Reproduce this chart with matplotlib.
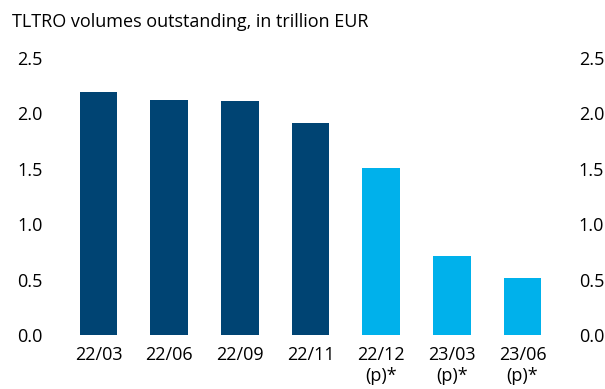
import matplotlib.pyplot as plt

# TLTRO volumes outstanding (trillion EUR)
periods = ['22/03', '22/06', '22/09', '22/11', '22/12\n(p)*', '23/03\n(p)*', '23/06\n(p)*']
volumes = [2.19, 2.12, 2.11, 1.91, 1.51, 0.71, 0.51]
projected = [False, False, False, False, True, True, True]
yticks = [0.0, 0.5, 1.0, 1.5, 2.0, 2.5]

DARK = '#004473'
LIGHT = '#00B1EB'

plt.rcParams['font.family'] = ['Open Sans', 'DejaVu Sans']

fig = plt.figure(figsize=(6.05, 3.89), dpi=100)
ax = fig.add_axes([0.1045, 0.1388, 0.8175, 0.7121])

colors = [LIGHT if p else DARK for p in projected]
ax.bar(range(len(periods)), volumes, width=0.53, color=colors)

ax.set_xlim(-0.5, len(periods) - 0.5)
ax.set_ylim(0, 2.5)
ax.set_yticks(yticks)
ax.set_yticklabels(['%.1f' % t for t in yticks])
ax.set_xticks(range(len(periods)))
ax.set_xticklabels(periods, linespacing=1.2)

# same scale mirrored on the right
ax.tick_params(axis='y', length=0, pad=15, labelsize=13,
               labelright=True, right=False)
ax.tick_params(axis='x', length=0, pad=8, labelsize=13)

for s in ax.spines.values():
    s.set_visible(False)

fig.text(0.02, 0.9434, 'TLTRO volumes outstanding, in trillion EUR',
         fontsize=13, va='center', ha='left')

fig.savefig('out.png', dpi=100)
